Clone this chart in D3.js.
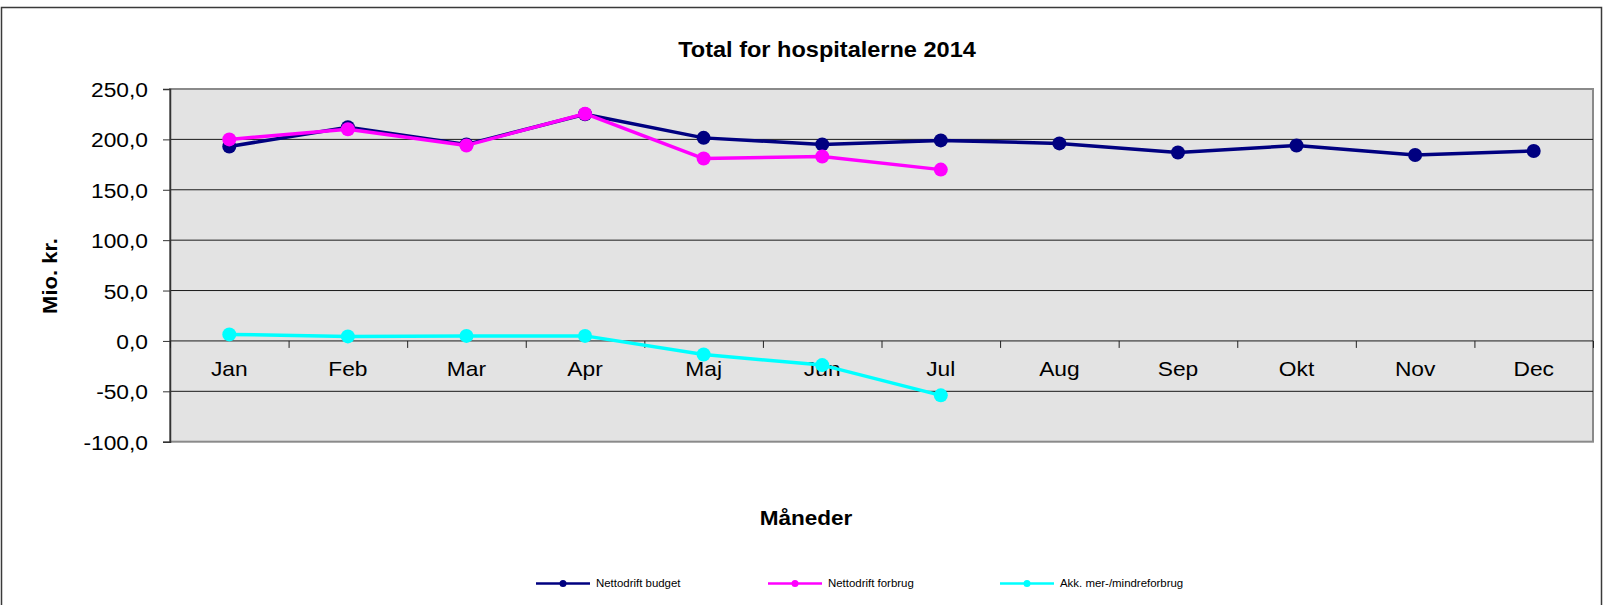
<!DOCTYPE html>
<html>
<head>
<meta charset="utf-8">
<script src="https://cdn.jsdelivr.net/npm/d3@7"></script>
<style>
  html, body { margin: 0; padding: 0; background: #ffffff; }
  svg { display: block; }
  text { font-family: "Liberation Sans", Arial, sans-serif; fill: #000; }
</style>
</head>
<body>
<svg id="chart" width="1603" height="605"></svg>
<script>
// ---- Data ----
const months = ["Jan", "Feb", "Mar", "Apr", "Maj", "Jun", "Jul", "Aug", "Sep", "Okt", "Nov", "Dec"];
const budget = [193, 212, 195, 225, 201.5, 195, 199, 196, 187, 194, 184.5, 188.5];
const forbrug = [200, 210, 194, 225.5, 181, 183, 170];
const akk = [6.5, 4.5, 5, 5, -13.5, -24, -54];
const yTicks = [-100, -50, 0, 50, 100, 150, 200, 250];
const seriesNames = ["Nettodrift budget", "Nettodrift forbrug", "Akk. mer-/mindreforbrug"];
const seriesColors = ["#000080", "#FF00FF", "#00FFFF"];
const titleText = "Total for hospitalerne 2014";
const yTitle = "Mio. kr.";
const xTitle = "Måneder";

// ---- Layout ----
const W = 1603, H = 605;
const plot = { left: 170, right: 1593, top: 89, bottom: 441.7 };
const SX = 1.1; // horizontal stretch of the original text

const svg = d3.select("#chart");
const fmt = d => d3.format(".1f")(d).replace(".", ",").replace("\u2212", "-");

// outer border
svg.append("rect").attr("x", 1.5).attr("y", 7.5).attr("width", W - 3).attr("height", H + 10)
  .attr("fill", "#fff").attr("stroke", "#3a3a3a").attr("stroke-width", 1.5);

const x = d3.scaleBand().domain(months).range([plot.left, plot.right]).padding(0);
const xb = d3.scaleLinear().domain([0, months.length]).range([plot.left, plot.right]);
const y = d3.scaleLinear().domain([-100, 250]).range([plot.bottom, plot.top]);

// plot background
svg.append("rect").attr("x", plot.left).attr("y", plot.top)
  .attr("width", plot.right - plot.left).attr("height", plot.bottom - plot.top)
  .attr("fill", "#e3e3e3").attr("stroke", "#8a8a8a").attr("stroke-width", 2);

// gridlines
svg.append("g").selectAll("line").data(yTicks.filter(d => d > -100 && d < 250)).join("line")
  .attr("x1", plot.left).attr("x2", plot.right)
  .attr("y1", d => y(d)).attr("y2", d => y(d))
  .attr("stroke", "#1a1a1a").attr("stroke-width", 1);

// y axis
const yAxis = svg.append("g").attr("transform", `translate(${plot.left},0)`)
  .call(d3.axisLeft(y).tickValues(yTicks).tickFormat(fmt).tickSize(7).tickPadding(0));
yAxis.select(".domain").attr("stroke", "#333").attr("stroke-width", 1.5);
yAxis.selectAll(".tick line").attr("stroke", "#333");
yAxis.selectAll(".tick text")
  .attr("font-size", 20.7).attr("font-family", "Liberation Sans, Arial, sans-serif")
  .attr("x", -22 / SX).attr("dy", "0.36em")
  .attr("transform", `scale(${SX},1)`);

// x axis boundary ticks at y=0
const xTickAxis = svg.append("g").attr("transform", `translate(0,${y(0)})`)
  .call(d3.axisBottom(xb).tickValues(d3.range(0, months.length + 1)).tickFormat("").tickSize(7));
xTickAxis.select(".domain").remove();
xTickAxis.selectAll(".tick line").attr("stroke", "#222");

// x category labels
const xLab = svg.append("g").attr("transform", `translate(0,${y(0)})`)
  .call(d3.axisBottom(x).tickSize(0));
xLab.select(".domain").remove();
xLab.selectAll(".tick text")
  .attr("font-size", 20.7).attr("font-family", "Liberation Sans, Arial, sans-serif")
  .attr("y", 35.5).attr("dy", 0)
  .attr("transform", `scale(${SX},1)`);

// lines
const cx = (d, i) => x(months[i]) + x.bandwidth() / 2;
const seriesData = [budget, forbrug, akk];
seriesData.forEach((vals, si) => {
  const line = d3.line().x((d, i) => cx(d, i)).y(d => y(d));
  const g = svg.append("g");
  g.append("path").datum(vals).attr("d", line)
    .attr("fill", "none").attr("stroke", seriesColors[si]).attr("stroke-width", 3.5)
    .attr("stroke-linejoin", "round");
  g.selectAll("circle").data(vals).join("circle")
    .attr("cx", (d, i) => cx(d, i)).attr("cy", d => y(d)).attr("r", 7)
    .attr("fill", seriesColors[si]);
});

// stretched text helper
function stext(px, py, str, size, bold, anchor, rot) {
  const g = svg.append("g").attr("transform", `translate(${px},${py})` + (rot ? ` rotate(${rot})` : ""));
  return g.append("text").attr("transform", `scale(${SX},1)`)
    .attr("font-size", size).attr("font-weight", bold ? "bold" : "normal")
    .attr("text-anchor", anchor).text(str);
}

// title and axis titles
stext(827, 57, titleText, 21.4, true, "middle");
stext(806, 525, xTitle, 20.5, true, "middle");
stext(57, 276, yTitle, 20, true, "middle", -90);

// legend
seriesNames.forEach((name, i) => {
  const lx = 536 + i * 232, ly = 583.5;
  svg.append("line").attr("x1", lx).attr("x2", lx + 54).attr("y1", ly).attr("y2", ly)
    .attr("stroke", seriesColors[i]).attr("stroke-width", 2.5);
  svg.append("circle").attr("cx", lx + 27).attr("cy", ly).attr("r", 3.5).attr("fill", seriesColors[i]);
  stext(lx + 60, ly + 3.5, name, 10.4, false, "start");
});
</script>
</body>
</html>
